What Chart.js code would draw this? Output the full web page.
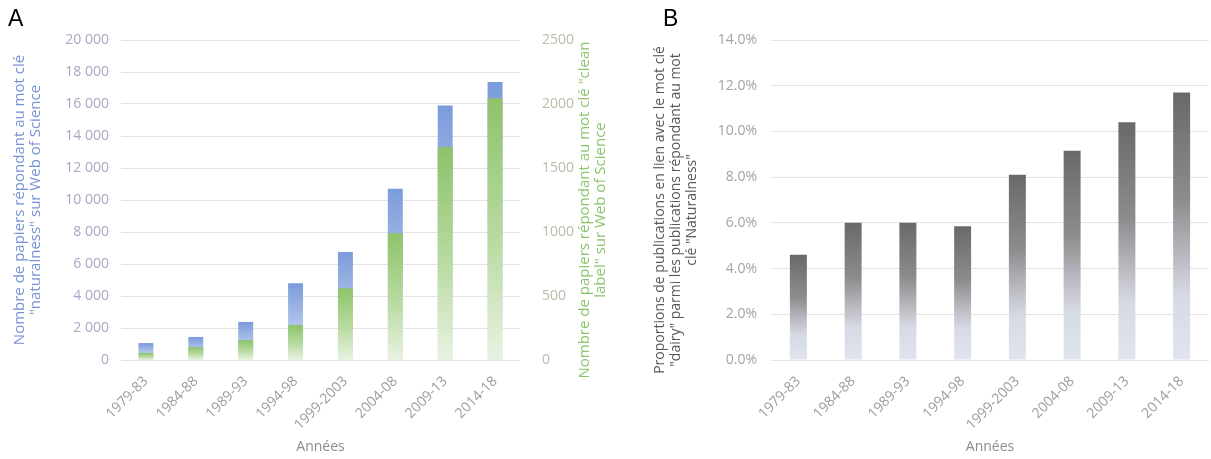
<!DOCTYPE html>
<html>
<head>
<meta charset="utf-8">
<script src="https://cdn.jsdelivr.net/npm/chart.js@4.4.1/dist/chart.umd.min.js"></script>
<style>
  body { margin: 0; background: #fff; width: 1211px; height: 459px; overflow: hidden; position: relative; }
  .panel { position: absolute; top: 0; height: 459px; }
  #panelA { left: 0; width: 612px; }
  #panelB { left: 605px; width: 606px; }
  .letter { position: absolute; top: 5px; font: 23px 'Liberation Sans', sans-serif; color: #000; }
</style>
</head>
<body>
<div class="panel" id="panelA"><canvas id="chartA"></canvas></div>
<div class="panel" id="panelB"><canvas id="chartB"></canvas></div>
<div class="letter" style="left:8px">A</div>
<div class="letter" style="left:663px">B</div>
<script>
var periods = ['1979-83', '1984-88', '1989-93', '1994-98', '1999-2003', '2004-08', '2009-13', '2014-18'];
// papers with keyword "naturalness" (left axis)
var naturalnessPapers = [1060, 1440, 2380, 4800, 6750, 10700, 15900, 17380];
// papers with keyword "clean label" (right axis)
var cleanLabelPapers = [55, 100, 156, 273, 560, 990, 1665, 2045];
// share of "dairy" publications among "naturalness" ones, in %
var dairyShare = [4.6, 6.0, 6.0, 5.85, 8.1, 9.15, 10.4, 11.7];

var leftTitleA = ['Nombre de papiers répondant au mot clé', '"naturalness" sur Web of Science'];
var rightTitleA = ['Nombre de papiers répondant au mot clé "clean', 'label" sur Web of Science'];
var titleB = ['Proportions de publications en lien avec le mot clé', '"dairy" parmi les publications répondant au mot', 'clé "Naturalness"'];
var xTitle = 'Années';

var FONT = "'Open Sans', sans-serif";

function spaced(v) {
    return String(v).replace(/\B(?=(\d{3})+(?!\d))/g, ' ');
}

// vertical gradient from the top of each bar down to zero
function barGradient(stops, axisId) {
    return function (c) {
        var chart = c.chart;
        if (!chart.chartArea || c.type !== 'data') return stops[0][1];
        var scale = chart.scales[axisId];
        var top = scale.getPixelForValue(c.raw);
        var bottom = scale.getPixelForValue(0);
        if (!isFinite(top) || Math.abs(bottom - top) < 1) return stops[0][1];
        var g = chart.ctx.createLinearGradient(0, top, 0, bottom);
        stops.forEach(function (s) { g.addColorStop(s[0], s[1]); });
        return g;
    };
}

// rotated axis titles read bottom-to-top, placed relative to the chart area
var sideTitlePlugin = {
    id: 'sideTitle',
    afterDraw: function (chart, args, opts) {
        var ctx = chart.ctx, area = chart.chartArea;
        ctx.save();
        ctx.translate(area[opts.edge] + opts.dx, (area.top + area.bottom) / 2 + opts.dy);
        ctx.rotate(-Math.PI / 2);
        ctx.fillStyle = opts.color;
        ctx.font = opts.size + 'px ' + FONT;
        ctx.textAlign = 'center';
        ctx.textBaseline = 'middle';
        opts.lines.forEach(function (t, i) { ctx.fillText(t, 0, i * opts.step); });
        ctx.restore();
    }
};

Chart.defaults.font.family = FONT;
Chart.defaults.animation = false;

new Chart(document.getElementById('chartA').getContext('2d'), {
    type: 'bar',
    data: {
        labels: periods,
        datasets: [{
            label: 'clean label',
            data: cleanLabelPapers,
            yAxisID: 'y2',
            grouped: false,
            order: 1,
            categoryPercentage: 1,
            barPercentage: 0.3,
            backgroundColor: barGradient([[0, '#8dc36a'], [0.55, '#b9dba2'], [1, '#e9f2e2']], 'y2')
        }, {
            label: 'naturalness',
            data: naturalnessPapers,
            yAxisID: 'y',
            grouped: false,
            order: 2,
            categoryPercentage: 1,
            barPercentage: 0.3,
            backgroundColor: barGradient([[0, '#7b9bdb'], [0.5, '#aec2e8'], [1, '#e4ebf7']], 'y')
        }]
    },
    options: {
        responsive: true,
        maintainAspectRatio: false,
        layout: { padding: { top: 40, bottom: 4, left: 6, right: 2 } },
        plugins: {
            legend: { display: false },
            tooltip: { enabled: false },
            sideTitle: { lines: rightTitleA, edge: 'right', dx: 65, dy: 10, color: '#8cc46c', size: 15, step: 16 }
        },
        scales: {
            x: {
                grid: { display: false },
                border: { display: false },
                ticks: { color: '#9b9b9b', font: { size: 14 }, minRotation: 45, maxRotation: 45, padding: 5 },
                title: { display: true, text: xTitle, color: '#8c8c8c', font: { size: 14 }, padding: 0 },
                afterFit: function (s) { s.height = 95; }
            },
            y: {
                position: 'left',
                min: 0, max: 20000,
                ticks: { stepSize: 2000, color: '#a4aac4', font: { size: 14 }, padding: 12, callback: function (v) { return spaced(v); } },
                grid: { color: '#e3e3e3', drawTicks: false },
                border: { display: false },
                title: { display: true, text: leftTitleA, color: '#7592d6', font: { size: 15, lineHeight: 1.1 }, padding: { top: 5 } },
                afterFit: function (s) { s.width = 115; }
            },
            y2: {
                position: 'right',
                min: 0, max: 2500,
                ticks: { stepSize: 500, color: '#b4bea8', font: { size: 14 }, padding: 14, callback: function (v) { return String(v); } },
                grid: { display: false },
                border: { display: false },
                afterFit: function (s) { s.width = 90; }
            }
        }
    },
    plugins: [sideTitlePlugin]
});

new Chart(document.getElementById('chartB').getContext('2d'), {
    type: 'bar',
    data: {
        labels: periods,
        datasets: [{
            label: 'dairy',
            data: dairyShare,
            categoryPercentage: 1,
            barPercentage: 0.31,
            backgroundColor: barGradient([[0, '#6a696a'], [0.4, '#8e8b8e'], [0.62, '#bcbbc2'], [0.76, '#d6dae4'], [1, '#dfe4ee']], 'y')
        }]
    },
    options: {
        responsive: true,
        maintainAspectRatio: false,
        layout: { padding: { top: 40, bottom: 4, left: 40, right: 2 } },
        plugins: {
            legend: { display: false },
            tooltip: { enabled: false },
            sideTitle: { lines: titleB, edge: 'left', dx: -111, dy: 10, color: '#595959', size: 14, step: 16 }
        },
        scales: {
            x: {
                grid: { display: false },
                border: { display: false },
                ticks: { color: '#9b9b9b', font: { size: 14 }, minRotation: 45, maxRotation: 45, padding: 5 },
                title: { display: true, text: xTitle, color: '#8c8c8c', font: { size: 14 }, padding: 0 },
                afterFit: function (s) { s.height = 95; }
            },
            y: {
                min: 0, max: 14,
                ticks: { stepSize: 2, color: '#a3a3a3', font: { size: 14 }, padding: 14, callback: function (v) { return v.toFixed(1) + '%'; } },
                grid: { color: '#e3e3e3', drawTicks: false },
                border: { display: false },
                afterFit: function (s) { s.width = 126; }
            }
        }
    },
    plugins: [sideTitlePlugin]
});
</script>
</body>
</html>
